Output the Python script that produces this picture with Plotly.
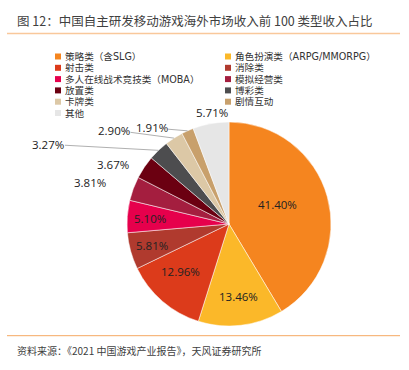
import numpy as np
import plotly.graph_objects as go

categories = ["策略类（含SLG）", "角色扮演类（ARPG/MMORPG）", "射击类", "消除类",
              "多人在线战术竞技类（MOBA）", "模拟经营类", "放置类", "博彩类",
              "卡牌类", "剧情互动", "其他"]
values = [41.40, 13.46, 12.96, 5.81, 5.10, 3.81, 3.67, 3.27, 2.90, 1.91, 5.71]
colors = ["#F5851F", "#FBB829", "#DC3B1B", "#B03A2E", "#E6004C", "#A41E3F",
          "#6B0011", "#4D4D4F", "#DCC8A6", "#C8A06C", "#E6E6E6"]

FONT = "Noto Sans CJK SC"
LEG_FONT = "DejaVu Sans, Noto Sans CJK SC"
NUM_FONT = "Open Sans, Noto Sans CJK SC"
W, H = 409, 370
CX, CY, R = 229, 224, 102

# label placement style: inside labels at a radius fraction; outside ones offset from edge
inside_radius = {0: 0.70, 1: 0.80, 2: 0.73, 3: 0.78, 4: 0.78}
outside_offsets = {5: (-26, -6, False), 6: (-14, -3, False), 7: (-110, -6, True),
                   8: (-60, -8, True), 9: (-36, -3, True), 10: (1, -11, False)}


def px(x):
    return x / W


def py(y):
    return 1 - y / H


fig = go.Figure(go.Pie(
    labels=categories, values=values, sort=False, direction="clockwise", rotation=0,
    marker=dict(colors=colors, line=dict(color="white", width=0.5)),
    textinfo="none",
    domain=dict(x=[px(CX - R), px(CX + R)], y=[py(CY + R), py(CY - R)]),
    showlegend=False, hoverinfo="skip",
))

annotations = []
shapes = []
LBL_FONT = dict(family=NUM_FONT, size=11.5, color="#222222")

total = float(np.sum(values))
cum = np.cumsum([0] + values[:-1])
mids = [(cum[i] + values[i] / 2) / total * 2 * np.pi for i in range(len(values))]

for i, f in inside_radius.items():
    x = CX + f * R * np.sin(mids[i])
    y = CY - f * R * np.cos(mids[i])
    annotations.append(dict(text=f"{values[i]:.2f}%", x=px(x), y=py(y), xref="paper",
                            yref="paper", showarrow=False, font=LBL_FONT, borderpad=0))

for i, (ox, oy, arrow) in outside_offsets.items():
    ex = CX + R * np.sin(mids[i])
    ey = CY - R * np.cos(mids[i])
    if arrow:
        annotations.append(dict(
            text=f"{values[i]:.2f}%", x=px(ex), y=py(ey), xref="paper", yref="paper",
            ax=ox, ay=oy, axref="pixel", ayref="pixel", showarrow=True, arrowhead=0,
            arrowwidth=1, arrowcolor="#B0B0B0", standoff=0, startstandoff=0,
            font=LBL_FONT, borderpad=0))
    else:
        annotations.append(dict(
            text=f"{values[i]:.2f}%", x=px(ex + ox), y=py(ey + oy), xref="paper",
            yref="paper", showarrow=False, xanchor="right" if ox < -5 else "center",
            yanchor="middle", font=LBL_FONT, borderpad=0))

# manual two-column legend
SP = 11.3
Y0 = 56.5
for i, (name, col) in enumerate(zip(categories, colors)):
    r, c = divmod(i, 2)
    x0 = 58 if c == 0 else 228
    yc = Y0 + r * SP
    shapes.append(dict(type="rect", xref="paper", yref="paper",
                       x0=px(x0 - 3), x1=px(x0 + 3), y0=py(yc + 3), y1=py(yc - 3),
                       fillcolor=col, line=dict(width=0)))
    annotations.append(dict(text=name, x=px(x0 + 6), y=py(yc), xref="paper",
                            yref="paper", xanchor="left", yanchor="middle",
                            showarrow=False, borderpad=0,
                            font=dict(family=LEG_FONT, size=9.6, color="#333333")))

shapes += [
    dict(type="line", xref="paper", yref="paper", x0=px(7), x1=px(400),
         y0=py(33.5), y1=py(33.5), line=dict(color="#F9C89B", width=1.5)),
    dict(type="line", xref="paper", yref="paper", x0=px(7), x1=px(400),
         y0=py(335.7), y1=py(335.7), line=dict(color="#F5A862", width=1)),
]
annotations += [
    dict(text="图 12：中国自主研发移动游戏海外市场收入前 100 类型收入占比",
         xref="paper", yref="paper", x=px(16), y=py(21), xanchor="left",
         yanchor="middle", showarrow=False, borderpad=0,
         font=dict(family=FONT, size=12.5, color="#404040")),
    dict(text="资料来源：《2021 中国游戏产业报告》，天风证券研究所",
         xref="paper", yref="paper", x=px(16), y=py(350), xanchor="left",
         yanchor="middle", showarrow=False, borderpad=0,
         font=dict(family=FONT, size=10, color="#404040")),
]

fig.update_layout(
    width=W, height=H, margin=dict(l=0, r=0, t=0, b=0),
    paper_bgcolor="white", plot_bgcolor="white",
    font=dict(family=FONT, color="#333333"),
    shapes=shapes, annotations=annotations,
)

fig.write_html("out.html", config={"displayModeBar": False},
               post_script="document.body.style.margin='0';")
